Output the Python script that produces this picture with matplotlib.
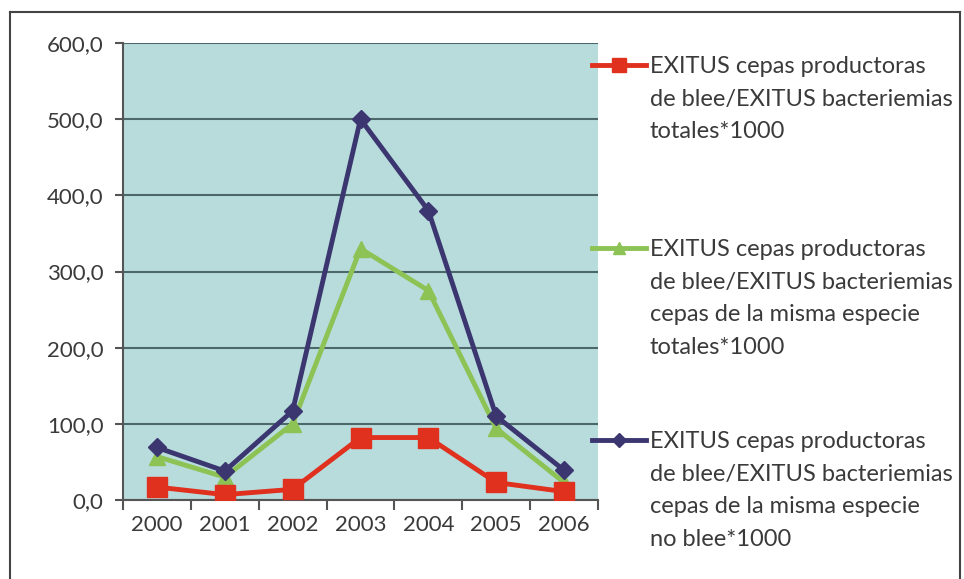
import numpy as np
import matplotlib.pyplot as plt
from matplotlib.lines import Line2D

# data
years = ["2000", "2001", "2002", "2003", "2004", "2005", "2006"]
exitus_totales = [17, 7, 14, 82, 82, 23, 11]
exitus_misma_especie = [57, 30, 100, 330, 275, 94, 23]
exitus_no_blee = [69, 38, 117, 500, 380, 110, 39]
yticks = [0, 100, 200, 300, 400, 500, 600]

labels = [
    "EXITUS cepas productoras\nde blee/EXITUS bacteriemias\ntotales*1000",
    "EXITUS cepas productoras\nde blee/EXITUS bacteriemias\ncepas de la misma especie\ntotales*1000",
    "EXITUS cepas productoras\nde blee/EXITUS bacteriemias\ncepas de la misma especie\nno blee*1000",
]

plt.rcParams["font.family"] = ["Lato", "DejaVu Sans"]
text_col = "#3a3a3a"

fig = plt.figure(figsize=(9.64, 5.79), dpi=100)
W, H = 964, 579
ax = fig.add_axes([123 / W, 1 - 500 / H, (598 - 123) / W, (500 - 43) / H])
ax.set_facecolor("#b8dcdc")

x = np.arange(len(years))
red = "#e0301e"
green = "#8dc255"
navy = "#3b3670"
ax.plot(x, exitus_no_blee, color=navy, lw=3.5, marker="D", ms=9, zorder=3)
ax.plot(x, exitus_misma_especie, color=green, lw=3.5, marker="^", ms=11, zorder=2)
ax.plot(x, exitus_totales, color=red, lw=3.5, marker="s", ms=14, zorder=4)

ax.set_xlim(-0.5, len(years) - 0.5)
ax.set_ylim(0, 600)
ax.set_yticks(yticks)
ax.set_yticklabels([f"{v:.1f}".replace(".", ",") for v in yticks])
ax.set_xticks(x)
ax.set_xticklabels(years)
ax.set_xticks(np.arange(-0.5, len(years)), minor=True)
ax.tick_params(axis="x", which="major", length=0, pad=11, labelsize=16, labelcolor=text_col)
ax.tick_params(axis="x", which="minor", length=7, width=1.5, color="#555555", direction="out")
ax.tick_params(axis="y", length=6, width=1.5, color="#555555", labelsize=16, labelcolor=text_col, pad=8)
ax.grid(axis="y", color="#4d6868", lw=1.5)
ax.set_axisbelow(True)
for s in ["top", "right"]:
    ax.spines[s].set_visible(False)
for s in ["left", "bottom"]:
    ax.spines[s].set_color("#555555")
    ax.spines[s].set_linewidth(1.5)

# legend drawn by hand so that the key sits on the first text line
entries = [(red, "s", 13, 65), (green, "^", 11, 248), (navy, "D", 9, 440)]
for (col, mk, ms, ypix), lab in zip(entries, labels):
    yf = 1 - ypix / H
    fig.add_artist(Line2D([592 / W, 619 / W, 646 / W], [yf, yf, yf], transform=fig.transFigure,
                          color=col, lw=3.5, marker=mk, ms=ms * 0.75, markevery=[1]))
    fig.text(650 / W, yf + 9 / H, lab, ha="left", va="top", fontsize=17,
             color=text_col, linespacing=1.68)

# outer frame
for xs, ys in [([10, 10], [579, 12]), ([10, 960], [12, 12]), ([960, 960], [12, 579])]:
    fig.add_artist(Line2D([v / W for v in xs], [1 - v / H for v in ys],
                          transform=fig.transFigure, color="#444444", lw=1.5))

fig.savefig("out.png", dpi=100, facecolor="white")
